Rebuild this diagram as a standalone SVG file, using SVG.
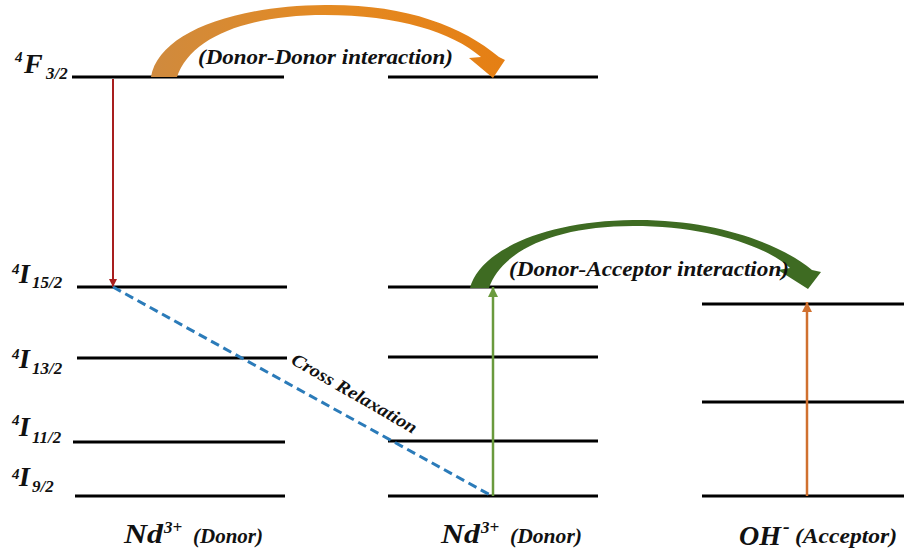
<svg xmlns="http://www.w3.org/2000/svg" width="904" height="550" viewBox="0 0 904 550">
<style>
.lv{stroke:#000;stroke-width:3;fill:none}
</style>
<defs>
<linearGradient id="og" x1="0" y1="0" x2="1" y2="0">
<stop offset="0" stop-color="#cf8a3e"/>
<stop offset="0.5" stop-color="#e48a22"/>
<stop offset="1" stop-color="#e57f14"/>
</linearGradient>
<marker id="mRed" viewBox="0 0 10 10" refX="10" refY="5" markerWidth="4" markerHeight="4" orient="auto"><path d="M0,0 L10,5 L0,10 Z" fill="#a81e1e"/></marker>
<marker id="mGreen" viewBox="0 0 10 10" refX="10" refY="5" markerWidth="4" markerHeight="4" orient="auto"><path d="M0,0 L10,5 L0,10 Z" fill="#6a9a3d"/></marker>
<marker id="mOrange" viewBox="0 0 10 10" refX="10" refY="5" markerWidth="4" markerHeight="4" orient="auto"><path d="M0,0 L10,5 L0,10 Z" fill="#d0702f"/></marker>
</defs>
<rect width="904" height="550" fill="#fff"/>

<g id="donor1">
<line class="lv" x1="72" y1="77" x2="284" y2="77"/>
<line class="lv" x1="77" y1="287" x2="287" y2="287"/>
<line class="lv" x1="77" y1="358" x2="287" y2="358"/>
<line class="lv" x1="73" y1="442" x2="285" y2="442"/>
<line class="lv" x1="75" y1="496" x2="285" y2="496"/>
<g font-family="Liberation Serif" font-weight="bold" font-style="italic" fill="#111">
<text font-family="Liberation Serif" font-weight="bold" font-style="italic"><tspan font-size="15" x="15" y="62">4</tspan><tspan font-size="28" x="24" y="73">F</tspan><tspan font-size="17" x="46" y="79">3/2</tspan></text>
<text font-family="Liberation Serif" font-weight="bold" font-style="italic"><tspan font-size="15" x="12" y="274">4</tspan><tspan font-size="28" x="19" y="283">I</tspan><tspan font-size="17" x="32" y="288">15/2</tspan></text>
<text font-family="Liberation Serif" font-weight="bold" font-style="italic"><tspan font-size="15" x="12" y="359">4</tspan><tspan font-size="28" x="19" y="368">I</tspan><tspan font-size="17" x="32" y="374">13/2</tspan></text>
<text font-family="Liberation Serif" font-weight="bold" font-style="italic"><tspan font-size="15" x="12" y="425">4</tspan><tspan font-size="28" x="19" y="436">I</tspan><tspan font-size="17" x="32" y="443">11/2</tspan></text>
<text font-family="Liberation Serif" font-weight="bold" font-style="italic"><tspan font-size="15" x="12" y="479">4</tspan><tspan font-size="28" x="19" y="486">I</tspan><tspan font-size="17" x="32" y="492">9/2</tspan></text>
<text font-family="Liberation Serif" font-weight="bold" font-style="italic"><tspan font-size="28" x="124" y="543" textLength="39" lengthAdjust="spacingAndGlyphs">Nd</tspan><tspan font-size="17" x="164" y="533">3+</tspan><tspan font-size="21" x="193" y="543" textLength="70" lengthAdjust="spacingAndGlyphs">(Donor)</tspan></text>
</g>
</g>

<g id="donor2">
<line class="lv" x1="388" y1="77" x2="598" y2="77"/>
<line class="lv" x1="388" y1="287" x2="598" y2="287"/>
<line class="lv" x1="388" y1="357" x2="598" y2="357"/>
<line class="lv" x1="388" y1="441" x2="598" y2="441"/>
<line class="lv" x1="388" y1="496" x2="598" y2="496"/>
<text font-family="Liberation Serif" font-weight="bold" font-style="italic" fill="#111"><tspan font-size="28" x="441" y="543" textLength="39" lengthAdjust="spacingAndGlyphs">Nd</tspan><tspan font-size="17" x="481" y="533">3+</tspan><tspan font-size="21" x="510" y="543" textLength="72" lengthAdjust="spacingAndGlyphs">(Donor)</tspan></text>
</g>

<g id="acceptor">
<line class="lv" x1="702" y1="304" x2="904" y2="304"/>
<line class="lv" x1="702" y1="402" x2="904" y2="402"/>
<line class="lv" x1="702" y1="496" x2="904" y2="496"/>
<text font-family="Liberation Serif" font-weight="bold" font-style="italic" fill="#111"><tspan font-size="28" x="739" y="545">OH</tspan><tspan font-size="20" x="783" y="533">-</tspan><tspan font-size="21" x="795" y="543" textLength="102" lengthAdjust="spacingAndGlyphs">(Acceptor)</tspan></text>
</g>

<g id="connectors">
<line x1="113" y1="79" x2="113" y2="287" stroke="#a81e1e" stroke-width="2" marker-end="url(#mRed)"/>
<line x1="113" y1="287" x2="492" y2="496" stroke="#2b7bb9" stroke-width="3" stroke-dasharray="9,5"/>
<line x1="493" y1="496" x2="493" y2="287" stroke="#6a9a3d" stroke-width="2.5" marker-end="url(#mGreen)"/>
<line x1="807" y1="496" x2="807" y2="302" stroke="#d0702f" stroke-width="2.5" marker-end="url(#mOrange)"/>
<path d="M151,77 C158,35 228,6 325,5 C405,4 462,26 499,57 L505,60 L493,78 L469,58 L481,57 C452,32 398,15 325,15 C245,15 190,38 177,77 Z" fill="url(#og)"/>
<path d="M470,288 C480,250 545,221 633,220 C712,219 778,242 812,270 L821,272 L808,289 L778,270 L790,268 C765,245 705,226 633,226 C556,226 502,250 489,288 Z" fill="#3e6b22"/>
<text font-family="Liberation Serif" font-weight="bold" font-style="italic" fill="#111" x="198" y="64" font-size="22" textLength="255" lengthAdjust="spacingAndGlyphs">(Donor-Donor  interaction)</text>
<text font-family="Liberation Serif" font-weight="bold" font-style="italic" fill="#111" x="509" y="276" font-size="22" textLength="280" lengthAdjust="spacingAndGlyphs">(Donor-Acceptor  interaction)</text>
<text font-family="Liberation Serif" font-weight="bold" font-style="italic" fill="#111" x="290" y="363" font-size="18" transform="rotate(30 290 363)" textLength="142" lengthAdjust="spacingAndGlyphs">Cross Relaxation</text>
</g>
</svg>
